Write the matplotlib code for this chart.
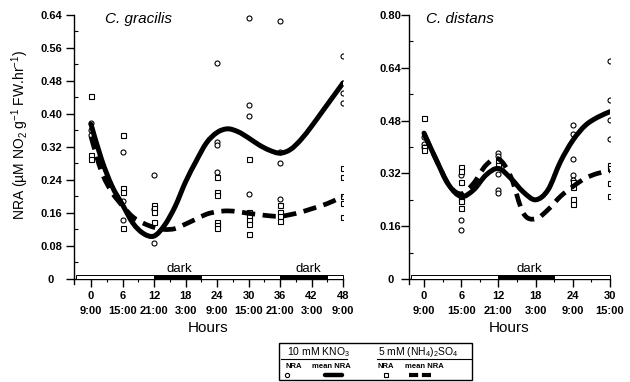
import matplotlib
matplotlib.use('Agg')
import matplotlib.pyplot as plt
from matplotlib.patches import Rectangle, PathPatch
from matplotlib.lines import Line2D
from matplotlib.path import Path

plt.rcParams['font.family'] = ['Liberation Sans', 'DejaVu Sans']
plt.rcParams['mathtext.fontset'] = 'custom'
plt.rcParams['mathtext.rm'] = 'Liberation Sans'
plt.rcParams['mathtext.it'] = 'Liberation Sans:italic'

# ---------------- data ----------------
# C. gracilis
gracilis_hours = [0, 6, 12, 24, 30, 36, 48]
gracilis_kno3 = [[0.378, 0.36, 0.35], [0.309, 0.19, 0.143], [0.252, 0.17, 0.087],
                 [0.523, 0.332, 0.325, 0.26], [0.632, 0.422, 0.395, 0.206],
                 [0.626, 0.309, 0.28, 0.195], [0.54, 0.475, 0.45, 0.427]]
gracilis_nh4 = [[0.444, 0.30, 0.292], [0.349, 0.22, 0.21, 0.124], [0.18, 0.172, 0.163, 0.137],
                [0.248, 0.21, 0.204, 0.138, 0.13, 0.124], [0.29, 0.163, 0.152, 0.142, 0.132, 0.11],
                [0.18, 0.163, 0.152, 0.14], [0.27, 0.248, 0.2, 0.185, 0.15]]
gracilis_curve_h = [0, 2, 4, 6, 8, 10, 12, 14, 16, 18, 20, 22, 24, 26, 28, 30, 32, 34, 36, 38, 40, 42, 44, 46, 48]
gracilis_kno3_mean = [0.375, 0.29, 0.225, 0.18, 0.135, 0.11, 0.104, 0.13, 0.175, 0.235, 0.285, 0.33, 0.355,
                      0.364, 0.357, 0.342, 0.325, 0.312, 0.305, 0.314, 0.338, 0.37, 0.405, 0.44, 0.475]
gracilis_nh4_mean = [0.345, 0.26, 0.21, 0.177, 0.15, 0.135, 0.125, 0.12, 0.122, 0.133, 0.145, 0.157, 0.163,
                     0.165, 0.163, 0.159, 0.156, 0.153, 0.152, 0.156, 0.162, 0.17, 0.178, 0.188, 0.2]
gracilis_ticks = [0, 6, 12, 18, 24, 30, 36, 42, 48]
gracilis_clock = ['9:00', '15:00', '21:00', '3:00', '9:00', '15:00', '21:00', '3:00', '9:00']
gracilis_dark = [(12, 21), (36, 45)]

# C. distans
distans_hours = [0, 6, 12, 24, 30]
distans_kno3 = [[0.43, 0.41, 0.40], [0.315, 0.255, 0.18, 0.147], [0.383, 0.372, 0.318, 0.27, 0.26],
                [0.466, 0.44, 0.363, 0.315, 0.30], [0.661, 0.542, 0.482, 0.424]]
distans_nh4 = [[0.487, 0.40, 0.39], [0.34, 0.328, 0.295, 0.245, 0.235, 0.215], [0.362, 0.345],
               [0.295, 0.28, 0.243, 0.228], [0.345, 0.336, 0.29, 0.25]]
distans_curve_h = [0, 2, 4, 6, 8, 10, 12, 14, 16, 18, 20, 22, 24, 26, 28, 30]
distans_kno3_mean = [0.442, 0.36, 0.285, 0.25, 0.27, 0.315, 0.335, 0.305, 0.264, 0.24, 0.27, 0.355, 0.42,
                     0.465, 0.49, 0.507]
distans_nh4_mean = [0.44, 0.36, 0.285, 0.258, 0.29, 0.345, 0.364, 0.31, 0.2, 0.182, 0.21, 0.25, 0.28,
                    0.305, 0.32, 0.328]
distans_ticks = [0, 6, 12, 18, 24, 30]
distans_clock = ['9:00', '15:00', '21:00', '3:00', '9:00', '15:00']
distans_dark = [(12, 21)]

# ---------------- figure ----------------
W, H = 630, 382
fig = plt.figure(figsize=(W / 100, H / 100), dpi=100)


def fx(px):
    return px / W


def fy(py):
    return 1 - py / H


def smooth_path(xs, ys):
    """Smooth Bezier path through the read points (Catmull-Rom control points)."""
    pts = list(zip(xs, ys))
    verts = [pts[0]]
    codes = [Path.MOVETO]
    n = len(pts)
    for i in range(n - 1):
        p0 = pts[i - 1] if i > 0 else pts[i]
        p1 = pts[i]
        p2 = pts[i + 1]
        p3 = pts[i + 2] if i + 2 < n else pts[i + 1]
        c1 = (p1[0] + (p2[0] - p0[0]) / 6, p1[1] + (p2[1] - p0[1]) / 6)
        c2 = (p2[0] - (p3[0] - p1[0]) / 6, p2[1] - (p3[1] - p1[1]) / 6)
        verts += [c1, c2, p2]
        codes += [Path.CURVE4] * 3
    return Path(verts, codes)


def panel(rect, xlim, ylim, ystep, hours, kno3, nh4, ch, km, nm, ticks, clock, dark,
          title, dark_x, ylabpad):
    ax = fig.add_axes(rect)
    ax.set_xlim(*xlim)
    ax.set_ylim(*ylim)
    for s in ('top', 'right'):
        ax.spines[s].set_visible(False)
    ax.spines['bottom'].set_position(('data', 0))
    ax.spines['left'].set_linewidth(1.0)
    ax.spines['bottom'].set_linewidth(1.0)

    # scatter points
    for h, vals in zip(hours, kno3):
        ax.plot([h] * len(vals), vals, 'o', ms=3.6, mfc='white', mec='black', mew=0.8, zorder=3)
    for h, vals in zip(hours, nh4):
        ax.plot([h] * len(vals), vals, 's', ms=3.6, mfc='white', mec='black', mew=0.8, zorder=3)
    # mean curves
    ax.add_patch(PathPatch(smooth_path(ch, nm), fill=False, edgecolor='black', lw=3.4,
                           ls=(0, (2.8, 1.6)), zorder=4))
    ax.add_patch(PathPatch(smooth_path(ch, km), fill=False, edgecolor='black', lw=3.6,
                           capstyle='round', joinstyle='round', zorder=5))

    # light / dark bar
    bar_h = (ylim[1] - ylim[0]) * 4 / 269
    x0 = xlim[0] + 0.3
    ax.add_patch(Rectangle((x0, 0), xlim[1] - x0, bar_h, facecolor='white', edgecolor='black',
                           lw=0.7, zorder=6, clip_on=False))
    for (a, b) in dark:
        ax.add_patch(Rectangle((a, 0), b - a, bar_h, facecolor='black', edgecolor='black',
                               lw=0.7, zorder=7, clip_on=False))
    for dx in dark_x:
        ax.text(dx, bar_h * 1.1, 'dark', ha='center', va='bottom', fontsize=9.5, zorder=8)

    # ticks
    ax.set_xticks(ticks)
    ax.set_xticklabels([f'{t}\n{c}' for t, c in zip(ticks, clock)], linespacing=1.55)
    ax.set_xticks([t + 3 for t in ticks[:-1]], minor=True)
    ax.tick_params(axis='x', which='major', direction='out', length=6, width=1.0, pad=3,
                   labelsize=8)
    ax.tick_params(axis='x', which='minor', direction='inout', length=4, width=0.8)
    nmaj = int(round(ylim[1] / ystep))
    yt = [i * ystep for i in range(nmaj + 1)]
    ax.set_yticks(yt)
    ax.set_yticklabels(['0'] + ['{:.2f}'.format(v) for v in yt[1:]])
    ax.set_yticks([v + ystep / 2 for v in yt[:-1]], minor=True)
    ax.tick_params(axis='y', which='major', direction='out', length=5.5, width=1.0, pad=ylabpad,
                   labelsize=8)
    ax.tick_params(axis='y', which='minor', direction='in', length=3, width=0.8)
    for lab in ax.get_yticklabels():
        lab.set_horizontalalignment('center')
        lab.set_fontweight('bold')
    for lab in ax.get_xticklabels():
        lab.set_fontweight('bold')
    ax.set_xlabel('Hours', fontsize=11, labelpad=4)
    ax.text(title[0], title[1], title[2], transform=ax.transAxes, fontsize=11, style='italic',
            ha='left', va='center')
    return ax


panel([fx(74), fy(284), fx(343) - fx(74), fy(15) - fy(284)], (-3.24, 48), (-0.0123, 0.64), 0.08,
      gracilis_hours, gracilis_kno3, gracilis_nh4, gracilis_curve_h, gracilis_kno3_mean,
      gracilis_nh4_mean, gracilis_ticks, gracilis_clock, gracilis_dark,
      (0.115, 0.985, 'C. gracilis'), [16.8, 41.3], 11)

panel([fx(409), fy(284), fx(610) - fx(409), fy(15) - fy(284)], (-2.42, 30), (-0.0152, 0.80), 0.16,
      distans_hours, distans_kno3, distans_nh4, distans_curve_h, distans_kno3_mean,
      distans_nh4_mean, distans_ticks, distans_clock, distans_dark,
      (0.085, 0.985, 'C. distans'), [17.0], 8)

fig.text(fx(20), fy(135), r'NRA (µM NO$_2$ g$^{-1}$ FW.hr$^{-1}$)', rotation=90, ha='center',
         va='center', fontsize=10)

# ---------------- legend box ----------------
fig.add_artist(Rectangle((fx(279), fy(380)), fx(472) - fx(279), fy(343) - fy(380),
                         transform=fig.transFigure, facecolor='white', edgecolor='black', lw=1.0))
fig.text(fx(287), fy(352), r'10 mM KNO$_3$', fontsize=7.5, ha='left', va='center')
fig.text(fx(378), fy(352), r'5 mM (NH$_4$)$_2$SO$_4$', fontsize=7.5, ha='left', va='center')
fig.add_artist(Line2D([fx(281), fx(347)], [fy(359), fy(359)], transform=fig.transFigure,
                      color='black', lw=0.8))
fig.add_artist(Line2D([fx(377), fx(471)], [fy(359), fy(359)], transform=fig.transFigure,
                      color='black', lw=0.8))
for x, t in [(285, 'NRA'), (312, 'mean NRA'), (378, 'NRA'), (405, 'mean NRA')]:
    fig.text(fx(x), fy(367), t, fontsize=5.5, ha='left', va='center', fontweight='bold')
fig.add_artist(Line2D([fx(287)], [fy(375)], transform=fig.transFigure, marker='o', ms=3,
                      mfc='white', mec='black', mew=0.8, ls='none'))
fig.add_artist(Line2D([fx(386)], [fy(375)], transform=fig.transFigure, marker='s', ms=3.2,
                      mfc='white', mec='black', mew=0.8, ls='none'))
fig.add_artist(Line2D([fx(325), fx(342)], [fy(375), fy(375)], transform=fig.transFigure,
                      color='black', lw=3.2, solid_capstyle='round'))
fig.add_artist(Line2D([fx(409), fx(431)], [fy(375), fy(375)], transform=fig.transFigure,
                      color='black', lw=3.0, ls=(0, (2.2, 0.9))))

fig.savefig('out.png', dpi=100)
